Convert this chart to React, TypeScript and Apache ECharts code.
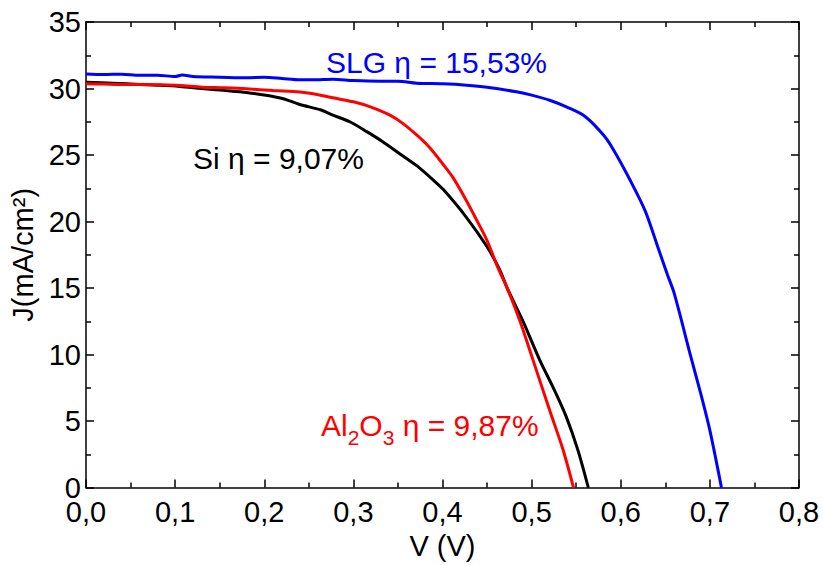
import React, { useEffect, useRef } from "react";
import * as echarts from "echarts";

const slgV = [0.0, 0.02, 0.04, 0.06, 0.08, 0.1, 0.108, 0.12, 0.15, 0.18, 0.2, 0.22, 0.24, 0.255, 0.277, 0.3, 0.33, 0.35, 0.371, 0.4, 0.427, 0.45, 0.483, 0.5, 0.521, 0.539, 0.56, 0.5806, 0.5918, 0.6106, 0.6274, 0.6405, 0.6524, 0.66, 0.678, 0.69, 0.7, 0.713];
const slgJ = [31.1, 31.05, 31.08, 31.0, 31.0, 30.9, 31.02, 30.9, 30.85, 30.8, 30.85, 30.75, 30.65, 30.65, 30.7, 30.6, 30.55, 30.55, 30.4, 30.35, 30.25, 30.1, 29.75, 29.5, 29.1, 28.62, 27.9, 26.5, 25.4, 23.1, 20.8, 18.3, 16.0, 14.6, 10.0, 7.0, 4.3, 0];

const alV = [0.0, 0.02, 0.04, 0.06, 0.08, 0.105, 0.13, 0.155, 0.18, 0.21, 0.24, 0.255, 0.277, 0.3, 0.319, 0.341, 0.355, 0.371, 0.385, 0.401, 0.412, 0.427, 0.44, 0.45, 0.463, 0.472, 0.487, 0.5015, 0.521, 0.535, 0.547];
const alJ = [30.36, 30.33, 30.3, 30.3, 30.28, 30.23, 30.1, 30.05, 29.98, 29.85, 29.74, 29.6, 29.3, 29.0, 28.62, 28.0, 27.4, 26.51, 25.6, 24.27, 23.28, 21.55, 19.9, 18.57, 16.4, 15.09, 12.5, 9.6, 5.66, 2.9, 0];

const siV = [0.0, 0.03, 0.06, 0.08, 0.105, 0.13, 0.154, 0.18, 0.218, 0.24, 0.263, 0.277, 0.296, 0.315, 0.333, 0.352, 0.371, 0.39, 0.401, 0.427, 0.45, 0.464, 0.472, 0.491, 0.509, 0.525, 0.539, 0.552, 0.5636];
const siJ = [30.48, 30.4, 30.3, 30.25, 30.16, 30.0, 29.86, 29.7, 29.29, 28.8, 28.4, 28.0, 27.5, 26.76, 26.0, 25.1, 24.2, 23.1, 22.4, 20.3, 18.1, 16.4, 15.09, 12.4, 9.6, 7.4, 5.3, 2.8, 0];

const xTicks = { min: 0, max: 0.8, interval: 0.1 };
const yTicks = { min: 0, max: 35, interval: 5 };

const FONT = "Liberation Sans, Arial, sans-serif";

function pairs(v: number[], j: number[]) {
  return v.map((x, i) => [x, j[i]]);
}

export default function App() {
  const ref = useRef<HTMLDivElement>(null);
  useEffect(() => {
    if (!ref.current) return;
    const chart = echarts.init(ref.current, null, { renderer: "svg" });
    const axisLine = { show: true, onZero: false, lineStyle: { color: "#000", width: 1.5 } };
    const tick = { show: true, inside: true, length: 8, lineStyle: { color: "#000", width: 1.5 } };
    const minor = { show: true, splitNumber: 2, length: 5, lineStyle: { color: "#000", width: 1.5 } };
    const label = { color: "#000", fontSize: 29, fontFamily: FONT };
    chart.setOption({
      animation: false,
      backgroundColor: "#fff",
      grid: { left: 86, right: 24, top: 22, bottom: 72 },
      xAxis: [
        {
          type: "value",
          ...xTicks,
          axisLine,
          axisTick: tick,
          minorTick: minor,
          splitLine: { show: false },
          axisLabel: { ...label, lineHeight: 24, margin: 12, formatter: (v: number) => v.toFixed(1).replace(".", ",") },
          name: "V (V)",
          nameLocation: "middle",
          nameGap: 41,
          nameTextStyle: { color: "#000", fontSize: 29, fontFamily: FONT },
        },
        {
          type: "value",
          position: "top",
          ...xTicks,
          axisLine,
          axisTick: tick,
          minorTick: minor,
          splitLine: { show: false },
          axisLabel: { show: false },
        },
      ],
      yAxis: [
        {
          type: "value",
          ...yTicks,
          axisLine,
          axisTick: tick,
          minorTick: minor,
          splitLine: { show: false },
          axisLabel: { ...label, lineHeight: 20, margin: 5, padding: [0, 0, 6, 0] },
          name: "J(mA/cm²)",
          nameLocation: "middle",
          nameGap: 44,
          nameTextStyle: { color: "#000", fontSize: 29, fontFamily: FONT },
        },
        {
          type: "value",
          position: "right",
          ...yTicks,
          axisLine,
          axisTick: tick,
          minorTick: minor,
          splitLine: { show: false },
          axisLabel: { show: false },
        },
      ],
      series: [
        { type: "line", data: pairs(siV, siJ), smooth: 0.3, showSymbol: false, symbol: "none", lineStyle: { color: "#000", width: 3 }, z: 3 },
        { type: "line", data: pairs(alV, alJ), smooth: 0.3, showSymbol: false, symbol: "none", lineStyle: { color: "#ff0000", width: 3 }, z: 4 },
        { type: "line", data: pairs(slgV, slgJ), smooth: 0.3, showSymbol: false, symbol: "none", lineStyle: { color: "#0000ff", width: 3 }, z: 5 },
      ],
      graphic: [
        {
          type: "text",
          x: 326,
          y: 62,
          style: { text: "SLG η = 15,53%", fill: "#0000ff", font: `30px ${FONT}`, textVerticalAlign: "middle" },
        },
        {
          type: "text",
          x: 193,
          y: 158,
          style: { text: "Si η = 9,07%", fill: "#000", font: `30px ${FONT}`, textVerticalAlign: "middle" },
        },
        {
          type: "text",
          x: 321,
          y: 410,
          style: {
            text: "{a|Al}{s|2}{a|O}{s|3}{a| η = 9,87%}",
            rich: {
              a: { fill: "#ff0000", fontSize: 30, fontFamily: FONT, lineHeight: 30, verticalAlign: "top" },
              s: { fill: "#ff0000", fontSize: 21, fontFamily: FONT, lineHeight: 22, padding: [17, 0, 0, 0], verticalAlign: "top" },
            },
          },
        },
      ],
    });
    return () => chart.dispose();
  }, []);
  return <div ref={ref} style={{ position: "absolute", left: 0, top: 0, width: 823, height: 565 }} />;
}
